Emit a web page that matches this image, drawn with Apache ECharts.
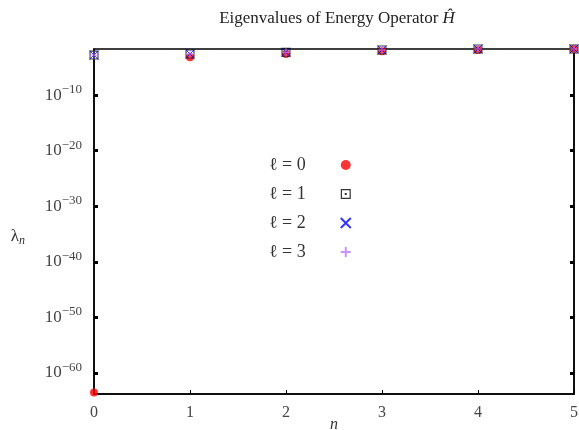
<!DOCTYPE html>
<html>
<head>
<meta charset="utf-8">
<script src="https://cdn.jsdelivr.net/npm/echarts@6/dist/echarts.min.js"></script>
<style>
  html, body { margin: 0; padding: 0; background: #fff; }
  #chart { width: 579px; height: 430px; }
</style>
</head>
<body>
<div id="chart"></div>
<script>
// quantum numbers n on the x axis
const nValues = [0, 1, 2, 3, 4, 5];
// eigenvalues for each angular momentum ell
const ell0 = [3e-64, 6.3e-4, 2.5e-3, 7.9e-3, 1.3e-2, 2.0e-2];
const ell1 = [1.6e-3, 2.5e-3, 5.0e-3, 1.3e-2, 2.0e-2, 2.0e-2];
const ell2 = [1.6e-3, 2.5e-3, 5.0e-3, 1.3e-2, 2.0e-2, 2.0e-2];
const ell3 = [1.6e-3, 2.5e-3, 5.0e-3, 1.3e-2, 2.0e-2, 2.0e-2];
const yTickExps = [-60, -50, -40, -30, -20, -10];
const legendNames = ['ℓ = 0', 'ℓ = 1', 'ℓ = 2', 'ℓ = 3'];

const serif = '"Liberation Serif", "DejaVu Serif", serif';
const yTicks = yTickExps.map(e => Math.pow(10, e));

function pairs(vals) {
  return nValues.map((n, i) => [n, vals[i]]);
}

const squareDot = 'path://M0,0H10V10H0Z M1.2,1.2V8.8H8.8V1.2Z M4,4H6V6H4Z';
const cross = 'path://M0,0L10,10M10,0L0,10';
const plus = 'path://M5,0L5,10M0,5L10,5';

const chart = echarts.init(document.getElementById('chart'));
chart.setOption({
  animation: false,
  title: {
    text: 'Eigenvalues of Energy Operator {h|Ĥ}',
    left: 332,
    textAlign: 'center',
    top: 5,
    textStyle: {
      fontFamily: serif, fontWeight: 'normal', fontSize: 17, color: '#222',
      rich: { h: { fontFamily: serif, fontStyle: 'italic', fontSize: 17, color: '#222' } }
    }
  },
  grid: {
    left: 94, right: 5, top: 49, bottom: 36,
    outerBoundsMode: 'none',
    show: true, borderColor: '#000', borderWidth: 1.5
  },
  legend: {
    orient: 'vertical',
    left: 264,
    top: 151,
    align: 'right',
    itemGap: 11,
    itemWidth: 10,
    itemHeight: 10,
    data: legendNames,
    textStyle: { fontFamily: serif, fontSize: 18, color: '#333', padding: [0, 30, 0, 0] }
  },
  xAxis: {
    type: 'value',
    min: 0, max: 5, interval: 1,
    name: 'n',
    nameLocation: 'middle',
    nameGap: 23,
    nameMoveOverlap: false,
    nameTextStyle: { fontFamily: serif, fontStyle: 'italic', fontSize: 16, color: '#333' },
    axisLine: { lineStyle: { color: '#000', width: 1.5 } },
    axisTick: { show: true, inside: true, length: 4, lineStyle: { color: '#000', width: 1 } },
    axisLabel: { fontFamily: serif, fontSize: 16, color: '#444', margin: 11 },
    splitLine: { show: false }
  },
  yAxis: [{
    type: 'log',
    logBase: 10,
    min: Math.pow(10, -63.8),
    max: Math.pow(10, -1.7),
    name: '{l|λ}{n|n}',
    nameLocation: 'middle',
    nameRotate: 0,
    nameGap: 69,
    nameMoveOverlap: false,
    nameTextStyle: {
      padding: [30, 0, 0, 0],
      rich: {
        l: { fontFamily: serif, fontSize: 17, color: '#333' },
        n: { fontFamily: serif, fontStyle: 'italic', fontSize: 12, color: '#333', verticalAlign: 'bottom', padding: [8, 0, 0, 0] }
      }
    },
    axisLine: { lineStyle: { color: '#000', width: 1.5 } },
    axisTick: { inside: true, length: 4, customValues: yTicks, lineStyle: { color: '#000', width: 3 } },
    axisLabel: {
      customValues: yTicks,
      margin: 12,
      formatter: v => '{b|10}{s|−' + Math.round(-Math.log10(v)) + '}',
      rich: {
        b: { fontFamily: serif, fontSize: 17, color: '#444' },
        s: { fontFamily: serif, fontSize: 13, color: '#444', verticalAlign: 'top', padding: [0, 0, 11, 0] }
      }
    },
    splitLine: { show: false }
  }, {
    type: 'log',
    logBase: 10,
    position: 'right',
    min: Math.pow(10, -63.8),
    max: Math.pow(10, -1.7),
    axisLine: { show: true, lineStyle: { color: '#000', width: 1.5 } },
    axisTick: { inside: true, length: 4, customValues: yTicks, lineStyle: { color: '#000', width: 3 } },
    axisLabel: { show: false },
    splitLine: { show: false }
  }],
  series: [
    {
      name: legendNames[0], type: 'scatter', data: pairs(ell0), clip: false,
      symbol: 'circle', symbolSize: 8, z: 2,
      itemStyle: { color: '#ff0000' }
    },
    {
      name: legendNames[1], type: 'scatter', data: pairs(ell1), clip: false,
      symbol: squareDot, symbolSize: 9, z: 3,
      itemStyle: { color: '#000' }
    },
    {
      name: legendNames[2], type: 'scatter', data: pairs(ell2), clip: false,
      symbol: cross, symbolSize: 9, z: 4,
      itemStyle: { color: 'rgba(0,0,0,0)', borderColor: '#0000ff', borderWidth: 1 }
    },
    {
      name: legendNames[3], type: 'scatter', data: pairs(ell3), clip: false,
      symbol: plus, symbolSize: 9, z: 5,
      itemStyle: { color: 'rgba(0,0,0,0)', borderColor: '#bb77ff', borderWidth: 1 }
    }
  ]
});
</script>
</body>
</html>
